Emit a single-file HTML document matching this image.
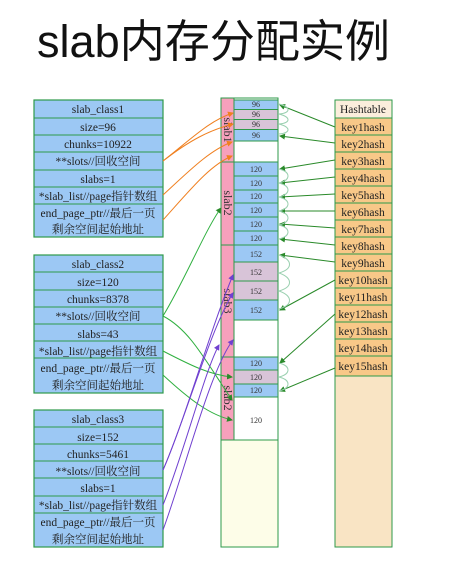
<!DOCTYPE html>
<html><head><meta charset="utf-8"><style>
body{margin:0;background:#fff;width:455px;height:564px;overflow:hidden}
svg{display:block}
.t{font-family:"Liberation Serif","Noto Serif CJK SC",serif;font-size:11.5px;fill:#222;text-anchor:middle}
.s{font-family:"Liberation Serif",serif;font-size:8px;fill:#333;text-anchor:middle}
</style></head><body>
<svg width="455" height="564" viewBox="0 0 455 564" xmlns="http://www.w3.org/2000/svg">
<defs>
<marker id="ag" markerWidth="6" markerHeight="6" refX="5" refY="3" orient="auto"><path d="M0,0L6,3L0,6z" fill="#2a8a2a"/></marker>
<marker id="ao" markerWidth="6" markerHeight="6" refX="5" refY="3" orient="auto"><path d="M0,0L6,3L0,6z" fill="#f08020"/></marker>
<marker id="ap" markerWidth="6" markerHeight="6" refX="5" refY="3" orient="auto"><path d="M0,0L6,3L0,6z" fill="#7040d0"/></marker>
</defs>
<text x="37" y="57" font-family="'Liberation Sans','Noto Sans CJK SC',sans-serif" font-size="45" fill="#111" textLength="353" lengthAdjust="spacingAndGlyphs">slab内存分配实例</text>

<g stroke="#2e9a4a" stroke-width="1.2" fill="#9cc8f4">
<rect x="34" y="100" width="129" height="137"/>
<rect x="34" y="255" width="129" height="138"/>
<rect x="34" y="410" width="129" height="137"/>
</g>
<g stroke="#2e9a4a" stroke-width="1">
<path d="M34 118H163M34 135H163M34 152H163M34 170H163M34 187H163M34 204H163"/>
<path d="M34 272H163M34 290H163M34 307H163M34 324H163M34 341H163M34 358H163"/>
<path d="M34 427H163M34 444H163M34 461H163M34 478H163M34 496H163M34 513H163"/>
</g>
<g class="t">
<text x="98" y="113">slab_class1</text><text x="98" y="131">size=96</text><text x="98" y="148">chunks=10922</text><text x="98" y="165">**slots//回收空间</text><text x="98" y="183">slabs=1</text><text x="98" y="200">*slab_list//page指针数组</text><text x="98" y="217">end_page_ptr//最后一页</text><text x="98" y="233">剩余空间起始地址</text>
<text x="98" y="268">slab_class2</text><text x="98" y="286">size=120</text><text x="98" y="303">chunks=8378</text><text x="98" y="320">**slots//回收空间</text><text x="98" y="338">slabs=43</text><text x="98" y="355">*slab_list//page指针数组</text><text x="98" y="372">end_page_ptr//最后一页</text><text x="98" y="389">剩余空间起始地址</text>
<text x="98" y="423">slab_class3</text><text x="98" y="441">size=152</text><text x="98" y="458">chunks=5461</text><text x="98" y="475">**slots//回收空间</text><text x="98" y="492">slabs=1</text><text x="98" y="509">*slab_list//page指针数组</text><text x="98" y="526">end_page_ptr//最后一页</text><text x="98" y="543">剩余空间起始地址</text>
</g>

<rect x="221" y="98" width="57" height="449" fill="#fdfde8" stroke="#2e9a4a"/>
<rect x="221" y="98" width="57" height="342" fill="#fff" stroke="#2e9a4a"/>
<g stroke="#2e9a4a" fill="#f7a0bc">
<rect x="221" y="98" width="13" height="64"/><rect x="221" y="162" width="13" height="83"/><rect x="221" y="245" width="13" height="112"/><rect x="221" y="357" width="13" height="83"/>
</g>
<g stroke="#2e9a4a">
<rect x="234" y="100" width="44" height="9.5" fill="#9cc8f4"/><rect x="234" y="109.5" width="44" height="10" fill="#d8c4d8"/><rect x="234" y="119.5" width="44" height="10" fill="#d8c4d8"/><rect x="234" y="129.5" width="44" height="11.5" fill="#9cc8f4"/>
<rect x="234" y="162" width="44" height="14" fill="#9cc8f4"/><rect x="234" y="176" width="44" height="14" fill="#9cc8f4"/><rect x="234" y="190" width="44" height="13" fill="#9cc8f4"/><rect x="234" y="203" width="44" height="14" fill="#9cc8f4"/><rect x="234" y="217" width="44" height="14" fill="#9cc8f4"/><rect x="234" y="231" width="44" height="14" fill="#9cc8f4"/>
<rect x="234" y="245" width="44" height="17" fill="#9cc8f4"/><rect x="234" y="262" width="44" height="19" fill="#d8c4d8"/><rect x="234" y="281" width="44" height="19" fill="#d8c4d8"/><rect x="234" y="300" width="44" height="20" fill="#9cc8f4"/>
<rect x="234" y="357" width="44" height="13" fill="#9cc8f4"/><rect x="234" y="370" width="44" height="14" fill="#d8c4d8"/><rect x="234" y="384" width="44" height="13" fill="#9cc8f4"/>
</g>
<g class="s">
<text x="256" y="107">96</text><text x="256" y="117">96</text><text x="256" y="127">96</text><text x="256" y="138">96</text>
<text x="256" y="172">120</text><text x="256" y="186">120</text><text x="256" y="199">120</text><text x="256" y="213">120</text><text x="256" y="227">120</text><text x="256" y="241">120</text>
<text x="256" y="257">152</text><text x="256" y="275">152</text><text x="256" y="294">152</text><text x="256" y="313">152</text>
<text x="256" y="366">120</text><text x="256" y="380">120</text><text x="256" y="393">120</text><text x="256" y="423">120</text>
</g>
<g font-family="'Liberation Serif',serif" font-size="12" fill="#333" text-anchor="middle">
<text transform="translate(224,130) rotate(90)">slab1</text>
<text transform="translate(224,203) rotate(90)">slab2</text>
<text transform="translate(224,301) rotate(90)">slab3</text>
<text transform="translate(224,398) rotate(90)">slab2</text>
</g>

<rect x="335" y="100" width="57" height="447" fill="#f9e4c4" stroke="#2e9a4a"/>
<rect x="335" y="100" width="57" height="18" fill="#fbeedc" stroke="#2e9a4a"/>
<g stroke="#2e9a4a" fill="#f8c888">
<rect x="335" y="118" width="57" height="17"/><rect x="335" y="135" width="57" height="17"/><rect x="335" y="152" width="57" height="17"/><rect x="335" y="169" width="57" height="17"/><rect x="335" y="186" width="57" height="17"/><rect x="335" y="203" width="57" height="17"/><rect x="335" y="220" width="57" height="17"/><rect x="335" y="237" width="57" height="17"/><rect x="335" y="254" width="57" height="17"/><rect x="335" y="271" width="57" height="17"/><rect x="335" y="288" width="57" height="17"/><rect x="335" y="305" width="57" height="17"/><rect x="335" y="322" width="57" height="17"/><rect x="335" y="339" width="57" height="17"/><rect x="335" y="356" width="57" height="20"/>
</g>
<g class="t">
<text x="363" y="113">Hashtable</text>
<text x="363" y="131">key1hash</text><text x="363" y="148">key2hash</text><text x="363" y="165">key3hash</text><text x="363" y="182">key4hash</text><text x="363" y="199">key5hash</text><text x="363" y="216">key6hash</text><text x="363" y="233">key7hash</text><text x="363" y="250">key8hash</text><text x="363" y="267">key9hash</text><text x="363" y="284">key10hash</text><text x="363" y="301">key11hash</text><text x="363" y="318">key12hash</text><text x="363" y="335">key13hash</text><text x="363" y="352">key14hash</text><text x="363" y="370">key15hash</text>
</g>

<g stroke="#2a8a2a" stroke-width="1" fill="none" marker-end="url(#ag)">
<path d="M335 127L280 105"/><path d="M335 143L280 136"/><path d="M335 160L280 169"/><path d="M335 177L280 183"/><path d="M335 194L280 197"/><path d="M335 211L280 211"/><path d="M335 228L280 224"/><path d="M335 245L280 239"/><path d="M335 262L280 255"/><path d="M335 280L280 310"/><path d="M335 314L280 363"/><path d="M335 368L280 391"/>
</g>
<g stroke="#9ad0b0" stroke-width="1" fill="none">
<path d="M279 104c12 3 12 9 0 10c12 3 12 9 0 10c12 3 12 9 0 10"/>
<path d="M279 169c12 3 12 11 0 14c12 3 12 11 0 14c12 3 12 11 0 14c12 3 12 11 0 14c12 3 12 11 0 14"/>
<path d="M279 255c14 5 14 14 0 18c14 5 14 14 0 18c14 5 14 14 0 18"/>
<path d="M279 363c12 3 12 11 0 14c12 3 12 11 0 14"/>
</g>
<g stroke="#f08020" stroke-width="1" fill="none" marker-end="url(#ao)">
<path d="M163 161C190 140 210 120 233 113"/><path d="M163 161C190 140 210 130 233 124"/><path d="M163 195C190 170 210 150 232 142"/><path d="M163 220C190 190 210 165 232 156"/>
</g>
<g stroke="#30b040" stroke-width="1" fill="none" marker-end="url(#ag)">
<path d="M163 316C185 280 205 230 221 208"/><path d="M163 351C190 365 210 375 232 377"/><path d="M163 375C190 400 210 415 232 420"/><path d="M163 316C190 330 205 360 232 400"/>
</g>
<g stroke="#7040d0" stroke-width="1" fill="none" marker-end="url(#ap)">
<path d="M163 470C185 420 210 330 233 275"/><path d="M163 470C185 420 210 330 233 293"/><path d="M163 505C185 450 205 370 219 345"/><path d="M163 530C185 470 210 370 233 340"/>
</g>
</svg>
</body></html>
